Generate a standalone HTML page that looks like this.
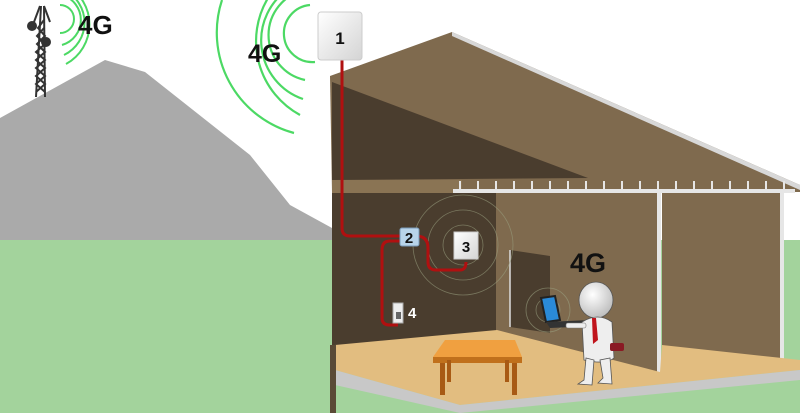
<!DOCTYPE html>
<html><head><meta charset="utf-8"><style>
html,body{margin:0;padding:0;background:#fff;}
svg{display:block}
text{font-family:"Liberation Sans",sans-serif;font-weight:bold}
</style></head><body>
<svg width="800" height="413" viewBox="0 0 800 413" xmlns="http://www.w3.org/2000/svg">
<defs>
<linearGradient id="box" x1="0" y1="0" x2="1" y2="1"><stop offset="0" stop-color="#ffffff"/><stop offset="1" stop-color="#d4d4d4"/></linearGradient>
<radialGradient id="head" cx="0.4" cy="0.35" r="0.7"><stop offset="0" stop-color="#fff"/><stop offset="1" stop-color="#bbb"/></radialGradient>
</defs>
<rect width="800" height="413" fill="#fff"/>
<rect x="0" y="240" width="800" height="173" fill="#a3d39c"/>
<polygon points="0,118 105,60 145,72 250,155 290,205 332,228 332,240 0,240" fill="#aaaaaa"/>
<!-- tower -->
<g stroke="#333" stroke-width="2" fill="none">
<line x1="36" y1="97" x2="41" y2="6"/><line x1="45" y1="97" x2="44" y2="6"/>
<path d="M36,92 L45,84 L36,76 L45,68 L36,60 L45,52 L37,44 L45,36 L38,28 L44,20"/>
<path d="M45,92 L36,84 L45,76 L36,68 L45,60 L36,52 L45,44 L37,36 L44,28"/>
<path d="M40,6 L34,22 M44,6 L50,22"/>
</g>
<circle cx="32" cy="26" r="5" fill="#333"/><circle cx="46" cy="42" r="5" fill="#333"/>
<g stroke="#4cd964" stroke-width="2" fill="none">
<path d="M60,5 A14,14 0 0 1 60,33"/>
<path d="M62,-5 A26,26 0 0 1 62,45"/>
<path d="M64,-10 A36,36 0 0 1 64,55"/>
<path d="M66,-15 A45,45 0 0 1 66,64"/>
</g>
<text x="78" y="34" font-size="26" fill="#111">4G</text>
<!-- house waves -->
<g stroke="#4cd964" stroke-width="2.2" fill="none">
<path d="M310,5 A26,26 0 0 0 315,62"/>
<path d="M305,-10 A46,46 0 0 0 305,80"/>
<path d="M290,-12 A62,62 0 0 0 303,99"/>
<path d="M268,-2 A84,84 0 0 0 300,115"/>
<path d="M222,0 A104,104 0 0 0 294,133"/>
</g>
<text x="248" y="62" font-size="25" fill="#111">4G</text>
<!-- roof -->
<polygon points="330,76 452,32 800,185 800,192 332,192" fill="#7f6a4e"/>
<polygon points="452,32 800,185 800,190 452,36" fill="#d8d8d8"/>
<polygon points="332,82 588,178 332,180" fill="#4a3d2e"/>
<rect x="332" y="180" width="130" height="13" fill="#8a7454"/>
<!-- walls -->
<rect x="332" y="193" width="165" height="152" fill="#4a3d2e"/>
<rect x="496" y="193" width="163" height="180" fill="#7f6a4e"/>
<rect x="662" y="193" width="120" height="175" fill="#7f6a4e"/>
<rect x="453" y="189" width="342" height="4" fill="#e6e6e6"/>
<g stroke="#e6e6e6" stroke-width="2">
<path d="M460,181V190 M478,181V190 M496,181V190 M514,181V190 M532,181V190 M550,181V190 M568,181V190 M586,181V190 M604,181V190 M622,181V190 M640,181V190 M658,181V190 M676,181V190 M694,181V190 M712,181V190 M730,181V190 M748,181V190 M766,181V190 M784,181V190"/>
</g>
<rect x="657" y="193" width="4" height="180" fill="#e6e6e6"/>
<rect x="780" y="193" width="4" height="170" fill="#e6e6e6"/>
<!-- window -->
<polygon points="510,250 550,256 550,333 510,327" fill="#4a3d2e"/>
<line x1="510" y1="250" x2="510" y2="327" stroke="#ddd" stroke-width="1.5"/>
<!-- floor -->
<polygon points="335,345 497,330 660,372 662,345 782,358 800,360 800,370 460,405 335,370" fill="#e2bd80"/>
<polygon points="335,370 460,405 800,370 800,380 460,413 335,385" fill="#c8c8c8"/>
<polygon points="330,345 336,345 336,413 330,413" fill="#5a4a36"/>
<!-- faint circles -->
<g stroke="#9aa080" stroke-width="0.8" fill="none" opacity="0.6">
<circle cx="463" cy="245" r="20"/><circle cx="463" cy="245" r="35"/><circle cx="463" cy="245" r="50"/>
<circle cx="548" cy="310" r="12"/><circle cx="548" cy="310" r="22"/>
</g>
<!-- cables -->
<g stroke="#b01010" stroke-width="3" fill="none" stroke-linejoin="round">
<path d="M342,60 V228 Q342,236 350,236 H402"/>
<path d="M416,236 Q428,236 428,248 V262 Q428,270 436,270 H460 Q466,270 466,262"/>
<path d="M402,241 H390 Q382,241 382,250 V318 Q382,325 390,325 H398"/>
</g>
<rect x="318" y="12" width="44" height="48" rx="3" fill="url(#box)" stroke="#ccc"/>
<text x="340" y="44" font-size="17" fill="#111" text-anchor="middle">1</text>
<rect x="400" y="228" width="19" height="18" rx="2" fill="#b8d4ea" stroke="#7a9ab8"/>
<text x="409" y="243" font-size="15" fill="#111" text-anchor="middle">2</text>
<rect x="454" y="232" width="24" height="27" fill="url(#box)" stroke="#ccc"/>
<text x="466" y="252" font-size="15" fill="#111" text-anchor="middle">3</text>
<rect x="393" y="303" width="10" height="20" fill="#eee" stroke="#aaa"/>
<rect x="396" y="312" width="5" height="7" fill="#666"/>
<text x="408" y="318" font-size="15" fill="#fff">4</text>
<!-- table -->
<polygon points="445,340 515,340 522,357 433,357" fill="#f0a040"/>
<rect x="433" y="357" width="89" height="6" fill="#c0701c"/>
<rect x="440" y="363" width="5" height="32" fill="#a85a14"/>
<rect x="512" y="363" width="5" height="32" fill="#a85a14"/>
<rect x="447" y="360" width="4" height="22" fill="#a85a14"/>
<rect x="505" y="360" width="4" height="22" fill="#a85a14"/>
<!-- person -->
<text x="570" y="272" font-size="27" fill="#111">4G</text>
<polygon points="541,298 555,296 560,320 546,322" fill="#2a8ad8" stroke="#222" stroke-width="2"/>
<polygon points="546,322 590,320 595,326 550,328" fill="#333"/>
<ellipse cx="596" cy="300" rx="17" ry="18" fill="url(#head)" stroke="#555" stroke-width="0.8"/>
<path d="M582,322 Q598,312 612,322 L614,358 Q606,365 584,360 Z" fill="#eee" stroke="#555" stroke-width="0.8"/>
<polygon points="592,318 596,318 598,340 593,344" fill="#c0141c"/>
<rect x="566" y="323" width="20" height="5" rx="2" fill="#eee" stroke="#777" stroke-width="0.6"/>
<rect x="610" y="343" width="14" height="8" rx="2" fill="#8a1a24"/>
<path d="M586,358 L584,380 L578,384 L592,385 L594,360 Z M600,360 L603,378 L598,383 L612,384 L610,358 Z" fill="#eee" stroke="#555" stroke-width="0.8"/>
</svg>
</body></html>
